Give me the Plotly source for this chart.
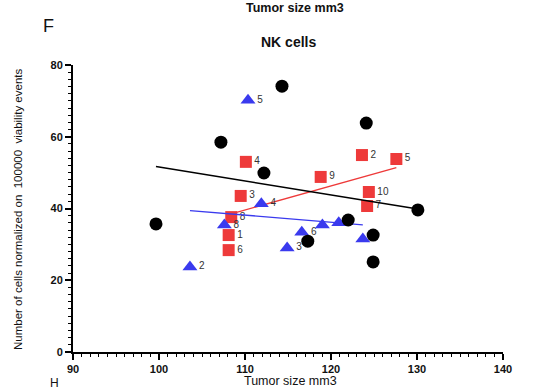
import numpy as np
import plotly.graph_objects as go

# Black circles (unlabelled group)
black_x = [99.65, 107.2, 114.3, 112.2, 124.1, 130.1, 122.0, 124.9, 117.3, 124.9]
black_y = [35.7, 58.5, 74.1, 49.9, 63.8, 39.6, 36.8, 32.6, 30.9, 25.1]

# Red squares
red_labels = ["1", "2", "3", "4", "5", "6", "7", "8", "9", "10"]
red_x = [108.1, 123.6, 109.5, 110.1, 127.6, 108.1, 124.2, 108.4, 118.8, 124.4]
red_y = [32.6, 54.9, 43.5, 53.0, 53.8, 28.4, 40.7, 37.6, 48.8, 44.6]

# Blue triangles
blue_labels = ["5", "4", "8", "2", "3", "6", "", "5", ""]
blue_x = [110.35, 111.9, 107.6, 103.6, 114.9, 116.6, 119.0, 120.9, 123.7]
blue_y = [70.2, 41.3, 35.4, 23.7, 29.0, 33.4, 35.4, 36.0, 31.5]

x_ticks = [90, 100, 110, 120, 130, 140]
y_ticks = [0, 20, 40, 60, 80]

RED = "#EE3A3A"
BLUE = "#3A3AEE"
BLACK = "#000000"


def fit_line(xs, ys):
    xs = np.asarray(xs)
    ys = np.asarray(ys)
    k, b = np.polyfit(xs, ys, 1)
    lx = np.array([xs.min(), xs.max()])
    return lx, k * lx + b


fig = go.Figure()

lbl_font = dict(family="Liberation Sans, Arial", size=10, color="#333333")

# red group
fig.add_trace(go.Scatter(x=red_x, y=red_y, mode="markers+text", text=red_labels,
                         textposition="middle right", textfont=lbl_font,
                         marker=dict(symbol="square", size=12, color=RED),
                         showlegend=False, hoverinfo="skip"))
lx, ly = fit_line(red_x, red_y)
fig.add_trace(go.Scatter(x=lx, y=ly, mode="lines", line=dict(color=RED, width=1.3),
                         showlegend=False, hoverinfo="skip"))

# blue group
fig.add_trace(go.Scatter(x=blue_x, y=blue_y, mode="markers+text", text=blue_labels,
                         textposition="middle right", textfont=lbl_font,
                         marker=dict(symbol="triangle-up", size=13, color=BLUE),
                         showlegend=False, hoverinfo="skip"))
lx, ly = fit_line(blue_x, blue_y)
fig.add_trace(go.Scatter(x=lx, y=ly, mode="lines", line=dict(color=BLUE, width=1.3),
                         showlegend=False, hoverinfo="skip"))

# black group
fig.add_trace(go.Scatter(x=black_x, y=black_y, mode="markers",
                         marker=dict(symbol="circle", size=13, color=BLACK),
                         showlegend=False, hoverinfo="skip"))
lx, ly = fit_line(black_x, black_y)
fig.add_trace(go.Scatter(x=lx, y=ly, mode="lines", line=dict(color=BLACK, width=1.5),
                         showlegend=False, hoverinfo="skip"))

tick_font = dict(family="Liberation Sans, Arial", size=11, color="#111111", weight="bold")

fig.update_xaxes(range=[90, 140], tickvals=x_ticks, ticktext=[str(v) for v in x_ticks],
                 showgrid=False, zeroline=False, showline=True, linecolor="black",
                 linewidth=2, ticks="outside", ticklen=6, tickwidth=1.5, tickcolor="black",
                 tickfont=tick_font,
                 minor=dict(dtick=1, ticks="outside", ticklen=3, tickwidth=1.2,
                            tickcolor="black", showgrid=False))
fig.update_yaxes(range=[0, 80], tickvals=y_ticks, ticktext=[str(v) for v in y_ticks],
                 showgrid=False, zeroline=False, showline=True, linecolor="black",
                 linewidth=2, ticks="outside", ticklen=6, tickwidth=1.5, tickcolor="black",
                 tickfont=tick_font,
                 minor=dict(dtick=2, ticks="outside", ticklen=3, tickwidth=1.2,
                            tickcolor="black", showgrid=False))

W, H = 533, 392
L, R, T, B = 73, 30, 65, 40

def px_x(p):
    return (p - L) / (W - L - R)

def px_y(p):
    return (H - B - p) / (H - T - B)

annotations = [
    dict(text="Tumor size mm3", x=px_x(290), y=px_y(381), xref="paper", yref="paper",
         showarrow=False, font=dict(family="Liberation Sans, Arial", size=12.5, color="#111111"),
         xanchor="center", yanchor="middle"),
    dict(text="Number of cells normalized on  100000  viability events", textangle=-90,
         x=px_x(18), y=px_y(209), xref="paper", yref="paper", showarrow=False,
         font=dict(family="Liberation Sans, Arial", size=11.5, color="#111111"),
         xanchor="center", yanchor="middle"),
    dict(text="<b>NK cells</b>", x=px_x(288), y=px_y(42), xref="paper", yref="paper",
         showarrow=False, font=dict(family="Liberation Sans, Arial", size=14, color="#111111"),
         xanchor="center", yanchor="middle"),
    dict(text="F", x=px_x(48), y=px_y(26), xref="paper", yref="paper", showarrow=False,
         font=dict(family="Liberation Sans, Arial", size=18, color="#111111"),
         xanchor="center", yanchor="middle"),
    dict(text="<b>Tumor size mm3</b>", x=px_x(295), y=px_y(8), xref="paper", yref="paper",
         showarrow=False, font=dict(family="Liberation Sans, Arial", size=12.5, color="#111111"),
         xanchor="center", yanchor="middle"),
    dict(text="H", x=px_x(54), y=px_y(383), xref="paper", yref="paper", showarrow=False,
         font=dict(family="Liberation Sans, Arial", size=12, color="#111111"),
         xanchor="center", yanchor="middle"),
]

fig.update_layout(width=W, height=H, margin=dict(l=L, r=R, t=T, b=B),
                  plot_bgcolor="white", paper_bgcolor="white",
                  annotations=annotations, hovermode=False)

fig.write_html("out.html", config={"displayModeBar": False},
               post_script="document.body.style.margin='0';document.body.style.overflow='hidden';")
